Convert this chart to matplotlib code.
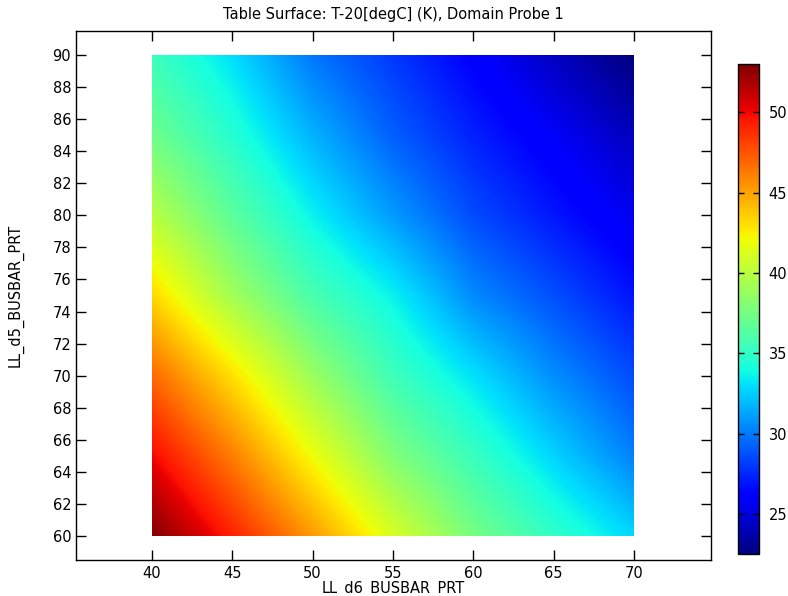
import matplotlib
matplotlib.use("Agg")
import matplotlib.pyplot as plt
from matplotlib.patches import Rectangle
import numpy as np

# table points (LL_d6 along x, LL_d5 along y) and probe values T-20 [K]
d6_values = [40, 45, 50, 55, 60, 65, 70]
d5_values = [60, 65, 70, 75, 80, 85, 90]
temps = [
    [53.0, 49.2, 45.3, 41.2, 37.6, 35.0, 32.8],  # d5 = 60
    [50.0, 46.2, 42.0, 38.0, 35.3, 32.7, 30.2],  # d5 = 65
    [46.9, 43.0, 38.9, 35.5, 33.1, 30.6, 28.6],  # d5 = 70
    [43.3, 39.2, 35.9, 33.6, 30.5, 28.7, 26.9],  # d5 = 75
    [40.0, 36.6, 33.6, 31.0, 28.6, 27.0, 25.5],  # d5 = 80
    [37.3, 34.6, 31.7, 29.2, 27.3, 25.8, 24.2],  # d5 = 85
    [35.4, 33.0, 29.9, 28.0, 26.2, 24.3, 22.5],  # d5 = 90
]
cbar_ticks = [25, 30, 35, 40, 45, 50]
x_ticks = [40, 45, 50, 55, 60, 65, 70]
y_ticks = list(range(60, 91, 2))

Z = np.array(temps)
dx = (d6_values[1] - d6_values[0]) / 2
dy = (d5_values[1] - d5_values[0]) / 2

fig = plt.figure(figsize=(7.88, 5.96), dpi=100)
ax = fig.add_axes([76/788, 1 - 560/596, (711-76)/788, (560-31)/596])
cax = fig.add_axes([738/788, 1 - 554/596, 21/788, (554-64)/596])

# pixel centres sit on the table points, then clip to the table domain
img = ax.imshow(Z, origin="lower", cmap="jet", interpolation="bilinear",
                extent=[d6_values[0] - dx, d6_values[-1] + dx,
                        d5_values[0] - dy, d5_values[-1] + dy],
                vmin=Z.min(), vmax=Z.max(), aspect="auto")
clip = Rectangle((d6_values[0], d5_values[0]), d6_values[-1] - d6_values[0],
                 d5_values[-1] - d5_values[0], transform=ax.transData)
img.set_clip_path(clip)

ax.set_xlim(35.27, 74.8)
ax.set_ylim(58.5, 91.5)
ax.set_xticks(x_ticks)
ax.set_yticks(y_ticks)
ax.tick_params(direction="in", length=7, width=1, top=True, right=True,
               labelsize=10.5, colors="black")
ax.tick_params(axis="x", pad=4)
for s in ax.spines.values():
    s.set_linewidth(1)

ax.set_xlabel("LL_d6_BUSBAR_PRT", fontsize=10.5, labelpad=0)
ax.set_ylabel("LL_d5_BUSBAR_PRT", fontsize=10.5, labelpad=21)
ax.set_title("Table Surface: T-20[degC] (K), Domain Probe 1", fontsize=10.5, pad=9)

cb = fig.colorbar(img, cax=cax, ticks=cbar_ticks)
cb.ax.tick_params(direction="in", length=4, width=1, left=True, right=True,
                  labelsize=10.5, pad=7)
cb.outline.set_linewidth(1)

plt.savefig("out.png", dpi=100)
